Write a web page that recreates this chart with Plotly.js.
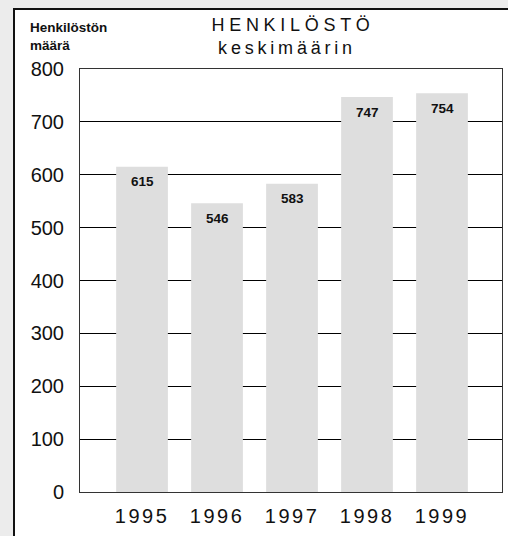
<!DOCTYPE html>
<html>
<head>
<meta charset="utf-8">
<script src="https://cdn.plot.ly/plotly-3.0.1.min.js"></script>
<style>
  html, body { margin: 0; padding: 0; width: 508px; height: 536px; overflow: hidden; background: #ececec; }
  #frame { position: absolute; left: 13px; top: 8px; width: 520px; height: 560px; background: #fff; border-left: 2px solid #111; border-top: 2px solid #111; }
  #chart { position: absolute; left: 15px; top: 10px; width: 493px; height: 526px; }
  .xtick text { letter-spacing: 2.5px; }
  .annotation[data-index="0"] .annotation-text { letter-spacing: 4.7px; }
  .annotation[data-index="1"] .annotation-text { letter-spacing: 3.8px; }
</style>
</head>
<body>
<div id="frame"></div>
<div id="chart"></div>
<script>
// Data
const years = ['1995', '1996', '1997', '1998', '1999'];
const staff = [615, 546, 583, 747, 754];
const yTicks = [0, 100, 200, 300, 400, 500, 600, 700, 800];
const titleLine1 = 'HENKILÖSTÖ';
const titleLine2 = 'keskimäärin';
const yTitle = 'Henkilöstön<br>määrä';

const FONT = 'Liberation Sans, Arial, Helvetica, sans-serif';

const trace = {
  type: 'bar',
  x: years,
  y: staff,
  width: 0.69,
  marker: { color: '#dedede', line: { width: 0 } },
  hoverinfo: 'skip'
};

const annotations = [
  { text: titleLine1, xref: 'paper', yref: 'paper', x: 0.5, y: 1, xanchor: 'center', yanchor: 'middle',
    xshift: 2, yshift: 44, showarrow: false, font: { family: FONT, size: 18, color: '#111' } },
  { text: titleLine2, xref: 'paper', yref: 'paper', x: 0.5, y: 1, xanchor: 'center', yanchor: 'middle',
    xshift: -4, yshift: 21, showarrow: false, font: { family: FONT, size: 18, color: '#111' } },
  { text: yTitle, xref: 'paper', yref: 'paper', x: 0, y: 1, xanchor: 'left', yanchor: 'middle', align: 'left',
    xshift: -52, yshift: 33, showarrow: false, font: { family: FONT, size: 13.5, color: '#111', weight: 'bold' } }
];
years.forEach((yr, i) => {
  annotations.push({
    text: String(staff[i]), x: i, y: staff[i], xref: 'x', yref: 'y',
    xanchor: 'center', yanchor: 'middle', yshift: -15, showarrow: false,
    font: { family: FONT, size: 13.5, color: '#111', weight: 'bold' }
  });
});

const layout = {
  width: 493, height: 526,
  margin: { l: 65, r: 6, t: 59, b: 44, pad: 0 },
  paper_bgcolor: 'rgba(0,0,0,0)',
  plot_bgcolor: '#ffffff',
  showlegend: false,
  font: { family: FONT, color: '#111' },
  xaxis: {
    type: 'category',
    range: [-0.827, 4.8],
    showgrid: false, zeroline: false,
    showline: true, mirror: true, linecolor: '#333', linewidth: 1,
    ticks: '', ticklabelstandoff: 6,
    tickfont: { family: FONT, size: 20, color: '#111' },
    fixedrange: true
  },
  yaxis: {
    range: [0, 800],
    tickvals: yTicks,
    ticktext: yTicks.map(String),
    showgrid: true, gridcolor: '#000', gridwidth: 1,
    zeroline: false,
    showline: true, mirror: true, linecolor: '#333', linewidth: 1,
    ticks: '', ticklabelstandoff: 11,
    tickfont: { family: FONT, size: 20, color: '#111' },
    fixedrange: true
  },
  annotations: annotations
};

Plotly.newPlot('chart', [trace], layout, { staticPlot: true, displayModeBar: false });
</script>
</body>
</html>
